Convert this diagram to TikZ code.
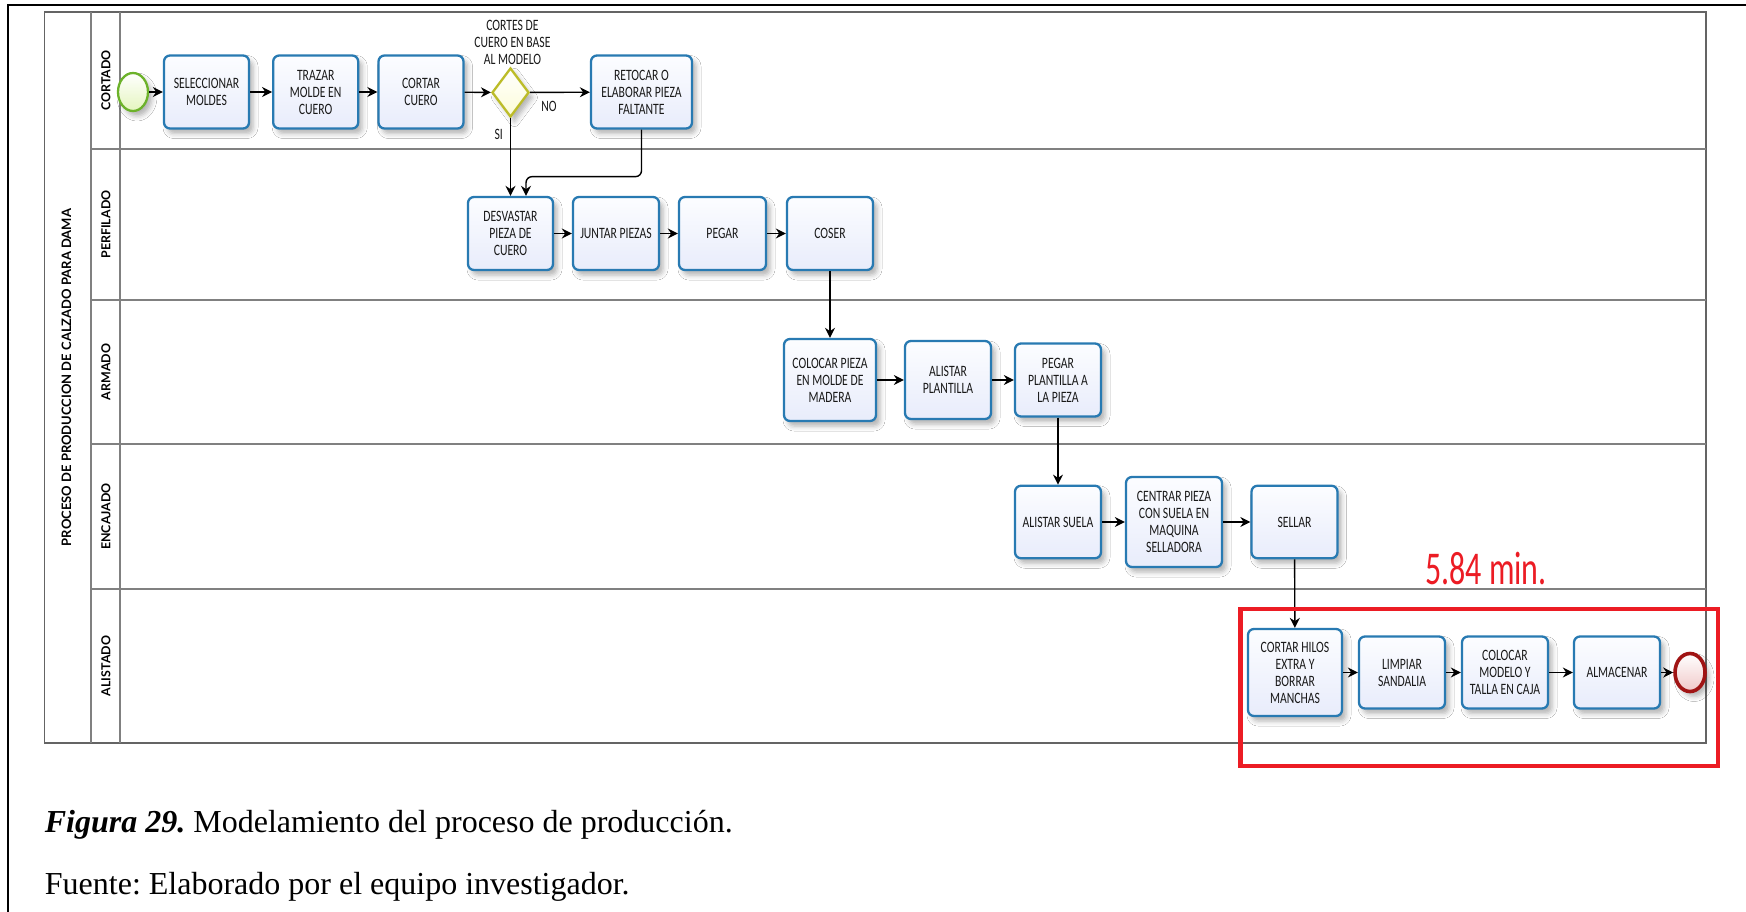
\documentclass[tikz,border=0pt]{standalone}
\usepackage{fontspec}
\setmainfont{Liberation Serif}
\newfontfamily\boxfont[FakeStretch=0.74]{Carlito}
\newfontfamily\notefont[FakeStretch=0.68]{Carlito}
\newfontfamily\lanefont{Lato}
\usetikzlibrary{shapes.geometric, arrows.meta, calc, shadows.blur}
\frenchspacing

\definecolor{boxline}{RGB}{40,122,178}
\definecolor{boxtop}{RGB}{252,253,255}
\definecolor{boxbot}{RGB}{232,236,251}
\definecolor{gateline}{RGB}{188,188,40}
\definecolor{gatefill}{RGB}{252,252,215}
\definecolor{startline}{RGB}{108,178,42}
\definecolor{startfill}{RGB}{228,245,190}
\definecolor{endline}{RGB}{160,20,20}
\definecolor{endfill}{RGB}{240,200,200}
\definecolor{poolline}{RGB}{100,100,100}
\definecolor{laneline}{RGB}{128,128,128}
\definecolor{markred}{RGB}{236,28,36}
\definecolor{txt}{RGB}{25,25,25}

\begin{document}
\begin{tikzpicture}[x=0.5pt, y=-0.5pt,
  softshadow/.style={blur shadow={shadow xshift=2pt, shadow yshift=-2.5pt,
      shadow blur radius=2.5pt, shadow opacity=30}},
  task/.style={rectangle, rounded corners=3pt, draw=boxline, line width=1.15pt,
      top color=boxtop, bottom color=boxbot, align=center, inner sep=1pt,
      text=txt, font=\boxfont\fontsize{7.9}{8.5}\selectfont, softshadow},
  gate/.style={diamond, draw=gateline, line width=1.15pt, top color=white,
      bottom color=gatefill, inner sep=0pt, minimum width=18.5pt,
      minimum height=24.5pt, softshadow},
  startev/.style={ellipse, draw=startline, line width=1.15pt, top color=white,
      bottom color=startfill, inner sep=0pt, minimum width=15pt,
      minimum height=19pt, softshadow},
  endev/.style={ellipse, draw=endline, line width=1.8pt, top color=white,
      bottom color=endfill, inner sep=0pt, minimum width=15pt,
      minimum height=19pt, softshadow},
  note/.style={align=center, inner sep=0pt, text=txt,
      font=\boxfont\fontsize{7.9}{8.5}\selectfont},
  lanelabel/.style={rotate=90, inner sep=0pt,
      font=\lanefont\bfseries\fontsize{6.2}{7}\selectfont},
  flow/.style={draw=black, line width=0.7pt,
      -{Stealth[length=5pt, width=5pt]}}
]
\useasboundingbox (0,0) rectangle (1746,911);
\fill[white] (0,0) rectangle (1746,911);

% page frame
\draw[line width=1.2pt, black] (1760,5) -- (8,5) -- (8,930);

% pool and lanes
\draw[poolline, line width=0.8pt] (44.5,12) rectangle (1706,743);
\draw[laneline, line width=0.9pt] (91,12) -- (91,743);
\draw[laneline, line width=0.9pt] (120,12) -- (120,743);
\foreach \yy in {149,300,444,589}
  \draw[laneline, line width=1pt] (91,\yy) -- (1706,\yy);

\node[lanelabel] (pooltitle) at (66.5,377.5)
  {\fontsize{6.5}{7}\selectfont PROCESO DE PRODUCCION DE CALZADO PARA DAMA};
\node[lanelabel] (l1) at (106,80.5) {CORTADO};
\node[lanelabel] (l2) at (106,224.5) {PERFILADO};
\node[lanelabel] (l3) at (106,372) {ARMADO};
\node[lanelabel] (l4) at (106,516.5) {ENCAJADO};
\node[lanelabel] (l5) at (106,666) {ALISTADO};

% lane: cortado
\node[startev] (start) at (133,92) {};
\node[task, minimum width=42.5pt, minimum height=36.5pt] (sel) at (206.5,92) {SELECCIONAR\\MOLDES};
\node[task, minimum width=42.5pt, minimum height=36.5pt] (tra) at (315.7,92) {TRAZAR\\MOLDE EN\\CUERO};
\node[task, minimum width=42.5pt, minimum height=36.5pt] (cor) at (421,92) {CORTAR\\CUERO};
\node[gate] (dia) at (510.5,92.5) {};
\node[note] (dlab) at (512.5,42) {CORTES DE\\CUERO EN BASE\\AL MODELO};
\node[task, minimum width=50.5pt, minimum height=36.5pt] (ret) at (641.5,92) {RETOCAR O\\ELABORAR PIEZA\\FALTANTE};
\node[note] (no) at (549,106) {NO};
\node[note] (si) at (498.7,134) {SI};

% lane: perfilado
\node[task, minimum width=42.5pt, minimum height=36.5pt] (des) at (510.5,233.5) {DESVASTAR\\PIEZA DE\\CUERO};
\node[task, minimum width=43pt, minimum height=36.5pt] (jun) at (616,233.5) {JUNTAR PIEZAS};
\node[task, minimum width=43.5pt, minimum height=36.5pt] (peg) at (722.5,233.5) {PEGAR};
\node[task, minimum width=43pt, minimum height=36.5pt] (cos) at (830,233.5) {COSER};

% lane: armado
\node[task, minimum width=46pt, minimum height=41pt] (col) at (830,380) {COLOCAR PIEZA\\EN MOLDE DE\\MADERA};
\node[task, minimum width=43pt, minimum height=39pt] (ali) at (948,380) {ALISTAR\\PLANTILLA};
\node[task, minimum width=43pt, minimum height=36.5pt] (pgp) at (1058,380) {PEGAR\\PLANTILLA A\\LA PIEZA};

% lane: encajado
\node[task, minimum width=43pt, minimum height=36.25pt] (sue) at (1058,522) {ALISTAR SUELA};
\node[task, minimum width=48pt, minimum height=45pt] (cen) at (1174,522) {CENTRAR PIEZA\\CON SUELA EN\\MAQUINA\\SELLADORA};
\node[task, minimum width=43pt, minimum height=36.25pt] (sll) at (1294.5,522) {SELLAR};

% lane: alistado
\node[task, minimum width=47pt, minimum height=43.5pt] (hil) at (1295,672.5) {CORTAR HILOS\\EXTRA Y\\BORRAR\\MANCHAS};
\node[task, minimum width=43pt, minimum height=36pt] (lim) at (1402,672.5) {LIMPIAR\\SANDALIA};
\node[task, minimum width=43pt, minimum height=36pt] (mod) at (1505,672.5) {COLOCAR\\MODELO Y\\TALLA EN CAJA};
\node[task, minimum width=43pt, minimum height=36pt] (alm) at (1617,672.5) {ALMACENAR};
\node[endev] (fin) at (1690,672.5) {};

% sequence flows
\draw[flow] (start) -- (sel);
\draw[flow] (sel) -- (tra);
\draw[flow] (tra) -- (cor);
\draw[flow] (cor) -- (dia);
\draw[flow] (dia) -- (ret);
\draw[flow] (dia.south) -- (des.north);
\draw[flow, rounded corners=3pt] (ret.south) -- ++(0,47) -| ($(des.north)+(15.5,0)$);
\draw[flow] (des) -- (jun);
\draw[flow] (jun) -- (peg);
\draw[flow] (peg) -- (cos);
\draw[flow] (cos) -- (col);
\draw[flow] (col) -- (ali);
\draw[flow] (ali) -- (pgp);
\draw[flow] (pgp) -- (sue);
\draw[flow] (sue) -- (cen);
\draw[flow] (cen) -- (sll);
\draw[flow] (sll) -- (hil);
\draw[flow] (hil.east |- lim.west) -- (lim);
\draw[flow] (lim) -- (mod);
\draw[flow] (mod) -- (alm);
\draw[flow] (alm) -- (fin);

% highlighted segment
\draw[markred, line width=2.25pt] (1240.5,609) rectangle (1718,766);
\node[anchor=base, inner sep=0pt, text=markred,
      font=\notefont\fontsize{23.5}{28}\selectfont] (time) at (1486,584) {5.84 min.};

% caption
\node[anchor=base west, inner sep=0pt, font=\fontsize{16}{19}\selectfont] (cap) at (44.5,832)
  {\textbf{\textit{Figura 29.}} Modelamiento del proceso de producción.};
\node[anchor=base west, inner sep=0pt, font=\fontsize{16}{19}\selectfont] (src) at (44.5,894)
  {Fuente: Elaborado por el equipo investigador.};
\end{tikzpicture}
\end{document}
